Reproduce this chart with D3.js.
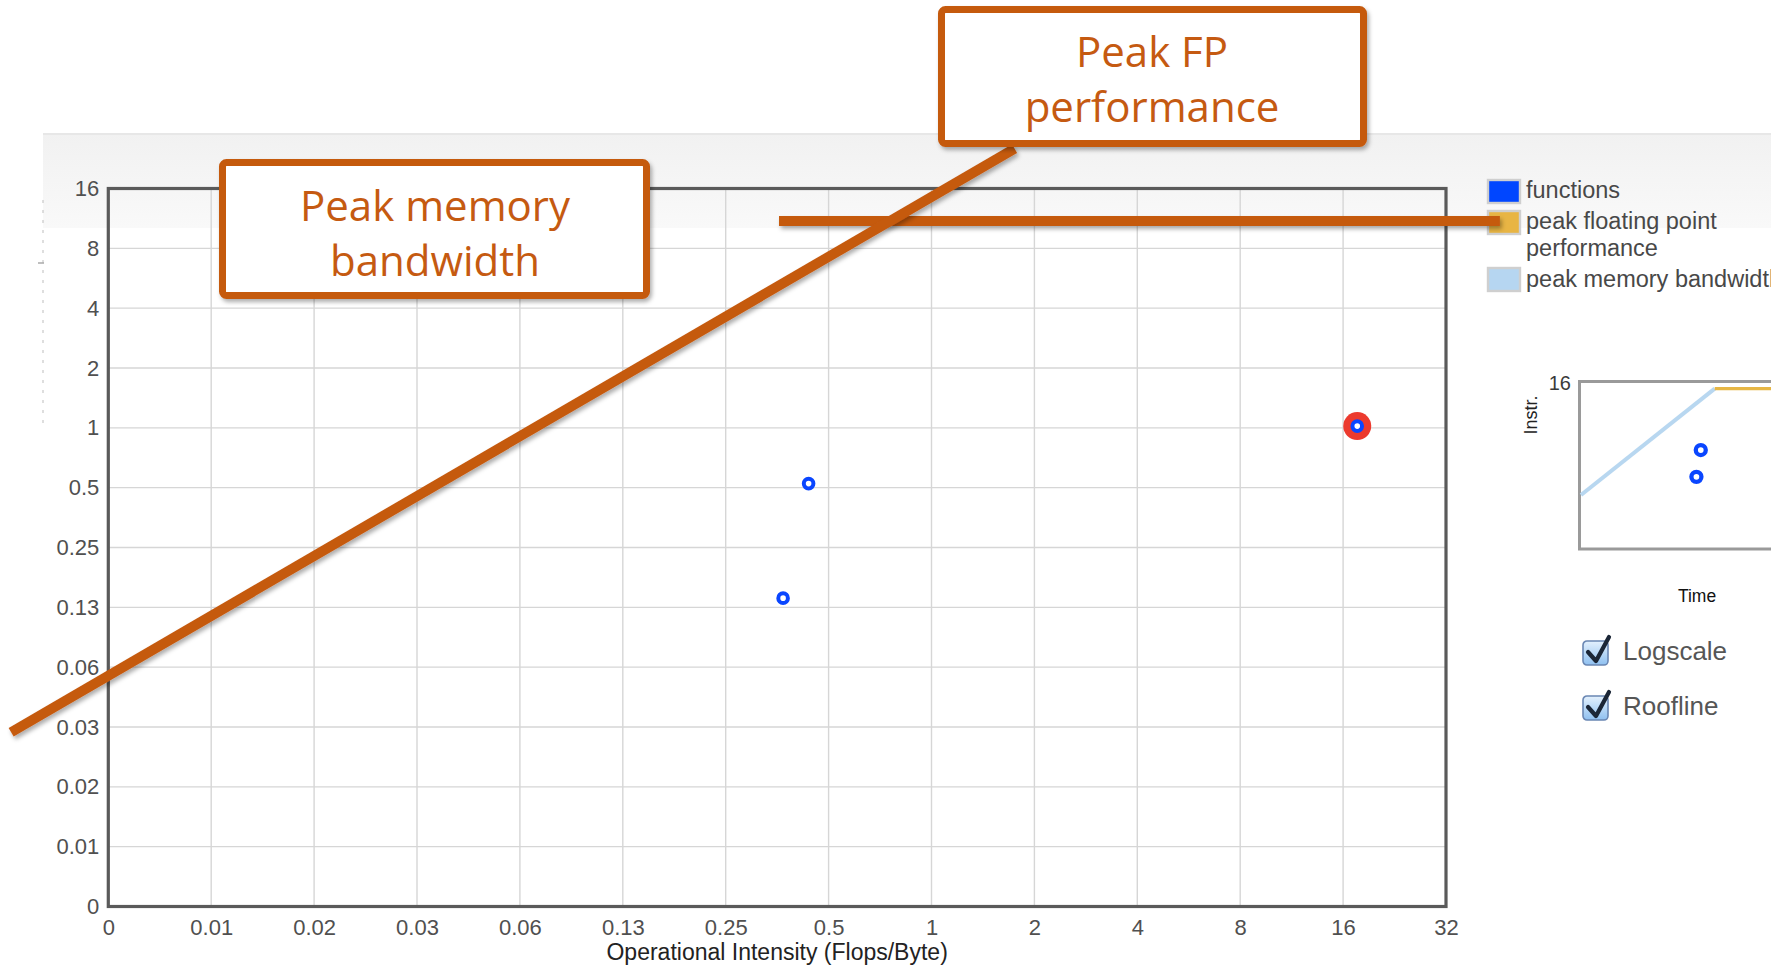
<!DOCTYPE html>
<html>
<head>
<meta charset="utf-8">
<script src="https://cdn.jsdelivr.net/npm/d3@7"></script>
<style>
  html, body { margin: 0; padding: 0; background: #ffffff; overflow: hidden; }
  svg { display: block; }
</style>
</head>
<body>
<svg id="chart" width="1788" height="968"></svg>
<script>
// ---------------- data ----------------
const xTickValues = [0.00390625, 0.0078125, 0.015625, 0.03125, 0.0625, 0.125, 0.25, 0.5, 1, 2, 4, 8, 16, 32];
const xTickLabels = ["0", "0.01", "0.02", "0.03", "0.06", "0.13", "0.25", "0.5", "1", "2", "4", "8", "16", "32"];
const yTickValues = [0.00390625, 0.0078125, 0.015625, 0.03125, 0.0625, 0.125, 0.25, 0.5, 1, 2, 4, 8, 16];
const yTickLabels = ["0", "0.01", "0.02", "0.03", "0.06", "0.13", "0.25", "0.5", "1", "2", "4", "8", "16"];

const functionsOI   = [0.437, 0.368, 17.6];   // operational intensity (Flops/Byte)
const functionsPerf = [0.524, 0.139, 1.02];   // performance
const selectedFunction = 2;

// roofline (peak memory bandwidth diagonal, then peak FP flat)
const rooflineOI   = [0.00390625, 0.757, 64];
const rooflinePerf = [0.0566, 10.98, 10.98];

// annotation lines drawn over the chart
const bwAnnotOI   = [0.00203, 1.75];
const bwAnnotPerf = [0.0294, 25.4];
const fpAnnotOI   = [0.358, 46];
const fpAnnotPerf = [10.98, 10.98];

const legendLabels = [["functions"], ["peak floating point", "performance"], ["peak memory bandwidth"]];
const legendColors = ["#0046ff", "#e8b544", "#b6d6f1"];
const checkboxLabels = ["Logscale", "Roofline"];
const calloutTexts = [["Peak memory", "bandwidth"], ["Peak FP", "performance"]];

// ---------------- layout ----------------
const svg = d3.select("#chart");
const defs = svg.append("defs");
const TXT = "'Liberation Sans', Arial, Helvetica, sans-serif";
const ORANGE = "#c55a11";

const x = d3.scaleLog().base(2).domain([xTickValues[0], xTickValues[xTickValues.length - 1]]).range([108.3, 1446]);
const y = d3.scaleLog().base(2).domain([yTickValues[0], yTickValues[yTickValues.length - 1]]).range([906.5, 188.5]);

// shadow filter (user space region so horizontal lines are not clipped away)
const sh = defs.append("filter").attr("id", "shadow").attr("filterUnits", "userSpaceOnUse")
  .attr("x", 0).attr("y", 0).attr("width", 1788).attr("height", 968);
sh.append("feDropShadow").attr("dx", 2).attr("dy", 3).attr("stdDeviation", 2.2).attr("flood-color", "#000").attr("flood-opacity", 0.32);

// band gradient
const bg = defs.append("linearGradient").attr("id", "band").attr("x1", 0).attr("y1", 0).attr("x2", 0).attr("y2", 1);
bg.append("stop").attr("offset", "0%").attr("stop-color", "#f1f1f1");
bg.append("stop").attr("offset", "100%").attr("stop-color", "#f9f9f9");

const cbg = defs.append("linearGradient").attr("id", "cb").attr("x1", 0).attr("y1", 0).attr("x2", 0).attr("y2", 1);
cbg.append("stop").attr("offset", "0%").attr("stop-color", "#e4f1fd");
cbg.append("stop").attr("offset", "100%").attr("stop-color", "#8fc0f0");

defs.append("clipPath").attr("id", "pageclip").append("rect").attr("x", 0).attr("y", 0).attr("width", 1771).attr("height", 968);

// page band
const page = svg.append("g").attr("clip-path", "url(#pageclip)");
page.append("rect").attr("x", 43).attr("y", 133).attr("width", 1728).attr("height", 95).attr("fill", "url(#band)");
page.append("line").attr("x1", 43).attr("x2", 1771).attr("y1", 134).attr("y2", 134).attr("stroke", "#e3e3e3").attr("stroke-width", 1.5);

// faint clipped y label remnants
page.append("line").attr("x1", 43).attr("x2", 43).attr("y1", 200).attr("y2", 426)
  .attr("stroke", "#c8c8c8").attr("stroke-width", 1.2).attr("stroke-dasharray", "3,7");
page.append("line").attr("x1", 38).attr("x2", 44).attr("y1", 263).attr("y2", 263).attr("stroke", "#aaa").attr("stroke-width", 1.5);

// ---------------- main chart ----------------
const main = page.append("g");
// grid
main.append("g").selectAll("line").data(xTickValues.slice(1, -1)).join("line")
  .attr("x1", d => x(d)).attr("x2", d => x(d)).attr("y1", y.range()[1]).attr("y2", y.range()[0])
  .attr("stroke", "#d6d6d6").attr("stroke-width", 1.4);
main.append("g").selectAll("line").data(yTickValues.slice(1, -1)).join("line")
  .attr("x1", x.range()[0]).attr("x2", x.range()[1]).attr("y1", d => y(d)).attr("y2", d => y(d))
  .attr("stroke", "#d6d6d6").attr("stroke-width", 1.4);
// frame
main.append("rect").attr("x", x.range()[0]).attr("y", y.range()[1])
  .attr("width", x.range()[1] - x.range()[0]).attr("height", y.range()[0] - y.range()[1])
  .attr("fill", "none").attr("stroke", "#5a5a5a").attr("stroke-width", 3.2);

// axes
const xAxis = main.append("g").attr("transform", `translate(0,${y.range()[0]})`)
  .call(d3.axisBottom(x).tickValues(xTickValues).tickFormat((d, i) => xTickLabels[i]).tickSize(0).tickPadding(13));
const yAxis = main.append("g").attr("transform", `translate(${x.range()[0]},0)`)
  .call(d3.axisLeft(y).tickValues(yTickValues).tickFormat((d, i) => yTickLabels[i]).tickSize(0).tickPadding(9));
[xAxis, yAxis].forEach(a => {
  a.select(".domain").remove();
  a.selectAll("text").attr("font-family", TXT).attr("font-size", 22).attr("fill", "#505050");
});

main.append("text").attr("x", (x.range()[0] + x.range()[1]) / 2).attr("y", 960)
  .attr("text-anchor", "middle").attr("font-family", TXT).attr("font-size", 23).attr("fill", "#222")
  .text("Operational Intensity (Flops/Byte)");

// points
const pts = functionsOI.map((d, i) => ({ oi: d, perf: functionsPerf[i], sel: i === selectedFunction }));
main.append("g").selectAll("circle").data(pts.filter(d => d.sel)).join("circle")
  .attr("cx", d => x(d.oi)).attr("cy", d => y(d.perf)).attr("r", 14).attr("fill", "#ec3a2e");
main.append("g").selectAll("circle").data(pts).join("circle")
  .attr("cx", d => x(d.oi)).attr("cy", d => y(d.perf)).attr("r", 4.8)
  .attr("fill", "#fff").attr("stroke", "#0a46ff").attr("stroke-width", 4);

// ---------------- legend ----------------
const leg = page.append("g");
const legRowsTop = [179, 210, 267];
const legBaselines = [[198], [229, 256], [287]];
legendLabels.forEach((lines, i) => {
  leg.append("rect").attr("x", 1488).attr("y", legRowsTop[i] + 1).attr("width", 32).attr("height", 23)
    .attr("fill", legendColors[i]).attr("stroke", "#cfcfcf").attr("stroke-width", 2.4);
  lines.forEach((t, j) => {
    leg.append("text").attr("x", 1526).attr("y", legBaselines[i][j])
      .attr("font-family", TXT).attr("font-size", 23.5).attr("fill", "#484848").text(t);
  });
});

// ---------------- mini chart ----------------
const mx = d3.scaleLog().base(2).domain([xTickValues[0], xTickValues[xTickValues.length - 1]]).range([1581, 1581 + 13 * 17.6]);
const my = d3.scaleLog().base(2).domain([yTickValues[0], yTickValues[yTickValues.length - 1]]).range([549, 381]);
const mini = page.append("g");
mini.append("rect").attr("x", 1579.5).attr("y", 381.5).attr("width", 260).attr("height", 167.5)
  .attr("fill", "none").attr("stroke", "#9a9a9a").attr("stroke-width", 3);
const roof = rooflineOI.map((d, i) => ({ oi: d, perf: rooflinePerf[i] }));
const ml = d3.line().x(d => mx(d.oi)).y(d => my(d.perf));
mini.append("path").attr("d", ml(roof.slice(0, 2))).attr("fill", "none").attr("stroke", "#b8d7f0").attr("stroke-width", 4);
mini.append("path").attr("d", ml(roof.slice(1))).attr("fill", "none").attr("stroke", "#e6b645").attr("stroke-width", 3.2);
mini.append("g").selectAll("circle").data(pts).join("circle")
  .attr("cx", d => mx(d.oi)).attr("cy", d => my(d.perf)).attr("r", 5)
  .attr("fill", "#fff").attr("stroke", "#0a46ff").attr("stroke-width", 4.3);
mini.append("text").attr("x", 1571).attr("y", 390).attr("text-anchor", "end")
  .attr("font-family", TXT).attr("font-size", 20).attr("fill", "#3a3a3a").text(yTickLabels[yTickLabels.length - 1]);
mini.append("text").attr("transform", "translate(1537,415) rotate(-90)").attr("text-anchor", "middle")
  .attr("font-family", TXT).attr("font-size", 18).attr("fill", "#222").text("Instr.");
mini.append("text").attr("x", 1697).attr("y", 602).attr("text-anchor", "middle")
  .attr("font-family", TXT).attr("font-size", 17.5).attr("fill", "#111").text("Time");

// checkboxes
const cbTop = [641, 696];
checkboxLabels.forEach((t, i) => {
  const g = page.append("g").attr("transform", `translate(1583,${cbTop[i]})`);
  g.append("rect").attr("x", 0).attr("y", 0).attr("width", 25).attr("height", 24).attr("rx", 4)
    .attr("fill", "url(#cb)").attr("stroke", "#6a87b3").attr("stroke-width", 1.6);
  g.append("path").attr("d", "M5,11 L13,20 L26,-4").attr("fill", "none")
    .attr("stroke", "#1b2636").attr("stroke-width", 4.2).attr("stroke-linecap", "round").attr("stroke-linejoin", "round");
  g.append("text").attr("x", 40).attr("y", 19).attr("font-family", TXT).attr("font-size", 26)
    .attr("fill", "#565656").text(t);
});

// ---------------- annotations ----------------
const annot = svg.append("g");
const al = d3.line().x(d => x(d.oi)).y(d => y(d.perf));
const bwLine = bwAnnotOI.map((d, i) => ({ oi: d, perf: bwAnnotPerf[i] }));
const fpLine = fpAnnotOI.map((d, i) => ({ oi: d, perf: fpAnnotPerf[i] }));
annot.append("path").attr("d", al(fpLine)).attr("fill", "none").attr("stroke", ORANGE)
  .attr("stroke-width", 10).attr("filter", "url(#shadow)");
annot.append("path").attr("d", al(bwLine)).attr("fill", "none").attr("stroke", ORANGE)
  .attr("stroke-width", 10).attr("filter", "url(#shadow)");

// callout boxes
const callouts = [
  { x: 222.5, y: 162.5, w: 424, h: 133, cx: 435, base: [221, 276] },
  { x: 941.5, y: 9.5, w: 422, h: 134, cx: 1152, base: [67, 122] }
];
callouts.forEach((c, i) => {
  annot.append("rect").attr("x", c.x).attr("y", c.y).attr("width", c.w).attr("height", c.h).attr("rx", 4)
    .attr("fill", "#fff").attr("stroke", ORANGE).attr("stroke-width", 7).attr("filter", "url(#shadow)");
  calloutTexts[i].forEach((t, j) => {
    annot.append("text").attr("x", c.cx).attr("y", c.base[j]).attr("text-anchor", "middle")
      .attr("font-family", "'Open Sans', 'Noto Sans', sans-serif").attr("font-size", 42).attr("fill", ORANGE).text(t);
  });
});
</script>
</body>
</html>
